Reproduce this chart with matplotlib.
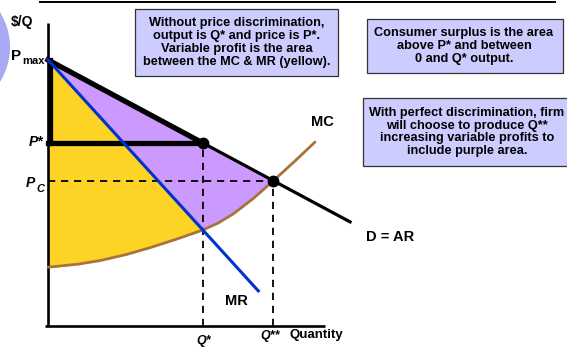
import matplotlib
matplotlib.use("Agg")
import matplotlib.pyplot as plt
from matplotlib.patches import Rectangle, Circle

# Curves for the monopolist (quantity, price)
demand_q = [0.0, 10.07]
demand_p = [8.87, 3.47]
mr_q = [0.0, 7.01]
mr_p = [8.87, 1.17]
mc_q = [0.00, 1.00, 1.73, 2.60, 3.40, 4.30, 5.16, 5.67, 6.18, 6.83, 7.51, 8.20, 8.90]
mc_p = [1.96, 2.06, 2.18, 2.38, 2.61, 2.90, 3.20, 3.43, 3.74, 4.24, 4.84, 5.47, 6.13]

# Key points
q_star, p_star = 5.16, 6.10     # single-price monopoly
q_dd, p_c = 7.51, 4.84          # perfect discrimination
p_max = 8.87

W, H = 567, 347
FONT = "Liberation Sans"


def px(x, y):
    # pixel position -> axis units (30 px per unit, origin at the axes corner)
    return (x - 48) / 30, (326 - y) / 30


fig = plt.figure(figsize=(W / 100, H / 100), dpi=100)
ax = fig.add_axes([0, 0, 1, 1])
ax.set_xlim(-48 / 30, (W - 48) / 30)
ax.set_ylim((326 - H) / 30, 326 / 30)
ax.axis("off")

# decoration: rule across the top and the disc at the left edge
x0, y0 = px(40, 2)
x1, _ = px(555, 2)
ax.plot([x0, x1], [y0, y0], color="black", lw=1.4)
ax.add_patch(Circle(px(-56, 47), 66 / 30, color="#A9A9F5", lw=0))

# yellow: between MR and MC up to Q*
i_star = mc_q.index(q_star)
i_dd = mc_q.index(q_dd)
yq = [0.0] + mc_q[:i_star + 1]
yp = [p_max] + mc_p[:i_star + 1]
ax.fill(yq, yp, color="#FDD326", lw=0, zorder=1)

# purple: between demand and MR/MC up to Q**
pq = [0.0, q_dd] + mc_q[i_star:i_dd + 1][::-1]
pp = [p_max, p_c] + mc_p[i_star:i_dd + 1][::-1]
ax.fill(pq, pp, color="#CC99FF", lw=0, zorder=1)

# dashed guide lines
dash = dict(color="black", lw=1.3, dashes=(4, 3.2), zorder=2)
ax.plot([0, q_dd], [p_c, p_c], **dash)
ax.plot([q_star, q_star], [0, p_star], **dash)
ax.plot([q_dd, q_dd], [0, p_c], **dash)

# axes
ax.plot([0, 0], [0, px(0, 23)[1]], color="black", lw=1.9, zorder=3, solid_capstyle="butt")
ax.plot([px(45, 0)[0], px(325, 0)[0]], [0, 0], color="black", lw=1.9, zorder=3,
        solid_capstyle="butt")

# curves
ax.plot(mc_q, mc_p, color="#A8723A", lw=2.0, zorder=3, solid_capstyle="round")
ax.plot(demand_q, demand_p, color="black", lw=2.3, zorder=4)
# consumer surplus outline
ax.plot([0, q_star], [p_max, p_star], color="black", lw=3.8, zorder=4)
ax.plot([0, q_star], [p_star, p_star], color="black", lw=3.8, zorder=4)
ax.plot([0.06, 0.06], [p_star, p_max], color="black", lw=3.8, zorder=4)
ax.plot(mr_q, mr_p, color="#0033CC", lw=2.2, zorder=5)

ax.plot([q_star, q_dd], [p_star, p_c], "o", color="black", ms=7.5, zorder=6)

# axis labels
bold = dict(family=FONT, fontweight="bold", color="black")
ax.text(*px(22, 22), "$/Q", fontsize=10, ha="center", va="center", **bold)
ax.text(*px(11, 56), "P", fontsize=11, ha="left", va="center", **bold)
ax.text(*px(22, 61), "max", fontsize=8, ha="left", va="center", **bold)
ax.text(*px(43, 142), "P*", fontsize=10, ha="right", va="center", style="italic", **bold)
ax.text(*px(26, 183), "P", fontsize=10, ha="left", va="center", style="italic", **bold)
ax.text(*px(36, 189), "C", fontsize=8, ha="left", va="center", style="italic", **bold)
ax.text(*px(322, 122), "MC", fontsize=10.5, ha="center", va="center", **bold)
ax.text(*px(390, 237), "D = AR", fontsize=10.5, ha="center", va="center", **bold)
ax.text(*px(236, 301), "MR", fontsize=10.5, ha="center", va="center", **bold)
ax.text(*px(204, 341), "Q*", fontsize=9, ha="center", va="center", style="italic", **bold)
ax.text(*px(270, 336), "Q**", fontsize=9, ha="center", va="center", style="italic", **bold)
ax.text(*px(316, 335), "Quantity", fontsize=9.5, ha="center", va="center", **bold)

# explanation boxes
boxes = [
    ((135, 9, 338, 76), 236.5,
     "Without price discrimination,\noutput is Q* and price is P*.\n"
     "Variable profit is the area\nbetween the MC & MR (yellow)."),
    ((367, 19, 563, 73), 464,
     "Consumer surplus is the area\nabove P* and between\n0 and Q* output."),
    ((363, 98, 580, 166), 467,
     "With perfect discrimination, firm\nwill choose to produce Q**\n"
     "increasing variable profits to\ninclude purple area."),
]
for (l, t, r, b), cx, txt in boxes:
    bx, by = px(l, b)
    ax.add_patch(Rectangle((bx, by), (r - l) / 30, (b - t) / 30, facecolor="#CCCCFF",
                           edgecolor="#333333", lw=0.9, zorder=7))
    ax.text(*px(cx, (t + b) / 2), txt, fontsize=9.2, ha="center", va="center",
            linespacing=1.1, zorder=8, **bold)

fig.savefig("out.png", dpi=100)
